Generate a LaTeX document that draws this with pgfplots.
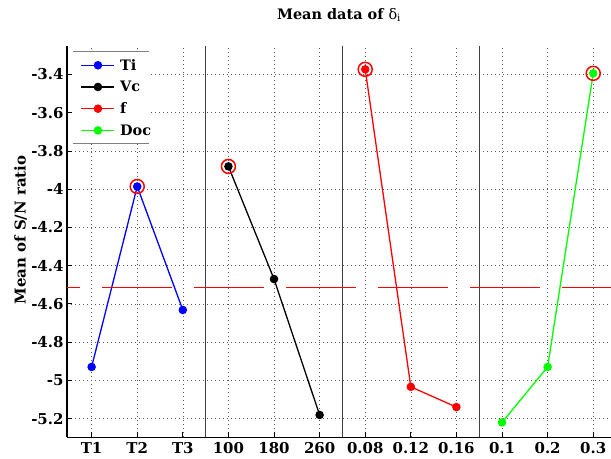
\documentclass[border=0pt]{standalone}
\usepackage{pgfplots}
\pgfplotsset{compat=1.18}
\usepackage{fontspec}
\setmainfont{DejaVu Serif}
\definecolor{pgreen}{RGB}{0,255,0}
\begin{document}
\begin{tikzpicture}
\begin{axis}[
 name=ax, scale only axis, width=544bp, height=391.3bp,
 xmin=-0.54, xmax=11.39, ymin=-5.298, ymax=-3.251,
 axis x line*=bottom, axis y line*=left,
 tick align=inside,
 xtick={0,...,11},
 xticklabels={T1,T2,T3,100,180,260,0.08,0.12,0.16,0.1,0.2,0.3},
 ytick={-5.2,-5,-4.8,-4.6,-4.4,-4.2,-4,-3.8,-3.6,-3.4},
 /pgf/number format/assume math mode=true,
 yticklabel style={/pgf/number format/fixed,/pgf/number format/precision=1},
 xticklabel style={yshift=-2bp},
 tick label style={font=\bfseries\fontsize{15}{17}\selectfont},
 grid=major,
 major grid style={dash pattern=on 1bp off 3bp, gray!70!black, line width=0.6bp},
 extra x ticks={2.5,5.5,8.5},
 extra x tick labels={},
 extra x tick style={grid=major, major tick length=0pt, major grid style={solid, black!75, line width=1.2bp}},
 axis line style={line width=1.2bp},
 tick style={black, line width=0.8bp},
 major tick length=5bp,
 title={Mean data of {\mdseries δ}\textsubscript{\mdseries i}},
 title style={at={(0.5,1)}, anchor=base, yshift=21bp, font=\bfseries\fontsize{14.5}{17}\selectfont},
 ylabel={Mean of S/N ratio},
 ylabel style={at={(axis description cs:-0.085,0.53)}, anchor=center, font=\bfseries\fontsize{15}{17}\selectfont},
 legend style={draw=none, fill=none, at={(rel axis cs:0.025,0.964)}, anchor=north west,
   font=\bfseries\fontsize{14.5}{16}\selectfont, inner sep=0pt, row sep=11.7bp, column sep=5bp,
   nodes={inner sep=0pt, text height=10bp, text depth=0bp}},
 legend cell align=left,
 legend image code/.code={\draw[mark repeat=2,mark phase=2] plot coordinates {(0bp,0bp)(16.5bp,0bp)(33bp,0bp)};},
 every axis plot/.append style={line width=1.3bp, mark=*, mark size=3.6bp, mark options={solid}},
]
\fill[white] (rel axis cs:0.011,0.752) rectangle (rel axis cs:0.151,0.987);
\addplot[blue] coordinates {(0,-4.930) (1,-3.986) (2,-4.632)};
\addlegendentry{Ti}
\addplot[black] coordinates {(3,-3.881) (4,-4.470) (5,-5.181)};
\addlegendentry{Vc}
\addplot[red] coordinates {(6,-3.373) (7,-5.034) (8,-5.140)};
\addlegendentry{f}
\addplot[pgreen] coordinates {(9,-5.220) (10,-4.930) (11,-3.394)};
\addlegendentry{Doc}
\addplot[red, line width=0.6bp, mark=none, dash pattern=on 70bp off 22bp, dash phase=57bp, forget plot] coordinates {(-0.54,-4.513) (11.39,-4.513)};
\addplot[red, only marks, mark=o, mark size=7bp, line width=1.5bp, forget plot] coordinates {(1,-3.986) (3,-3.881) (6,-3.373) (11,-3.394)};
\coordinate (r1) at (rel axis cs:0.011,0.987);
\coordinate (r2) at (rel axis cs:0.151,0.987);
\coordinate (r3) at (rel axis cs:0.011,0.752);
\coordinate (r4) at (rel axis cs:0.151,0.752);
\end{axis}
\draw[gray, line width=1bp] (r1) -- (r2);
\draw[gray, line width=1bp] (r3) -- (r4);
\pgfresetboundingbox
\path[use as bounding box] ([xshift=-67bp,yshift=-21.7bp]ax.south west) rectangle ([yshift=46bp]ax.north east);
\end{tikzpicture}
\end{document}
